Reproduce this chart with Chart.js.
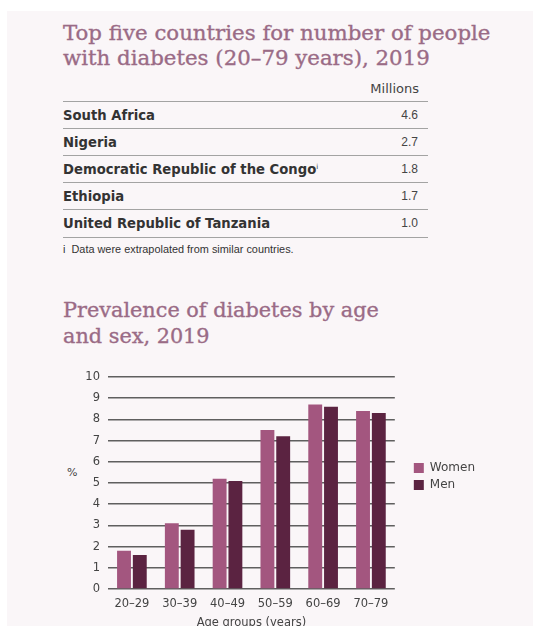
<!DOCTYPE html>
<html>
<head>
<meta charset="utf-8">
<script src="https://cdn.jsdelivr.net/npm/chart.js@4.4.0/dist/chart.umd.min.js"></script>
<style>
  html, body { margin: 0; padding: 0; width: 533px; height: 626px; overflow: hidden; background: #ffffff; }
  .panel { position: absolute; left: 7px; top: 11px; width: 526px; height: 615px; background: #faf6f8; }
  .title { position: absolute; left: 63px; margin: 0; font-family: 'DejaVu Serif', serif; font-size: 21.3px; font-weight: normal; color: #9a6b86; white-space: nowrap; -webkit-text-stroke: 0.35px #9a6b86; }
  #title1 { top: 20px; line-height: 25px; }
  #title2 { top: 297px; line-height: 26px; font-size: 20.8px; }
  .tbl { position: absolute; left: 63px; top: 79px; width: 365px; }
  .tbl .hd { height: 22px; text-align: right; padding-right: 9px; font-family: 'DejaVu Sans', sans-serif; font-size: 13px; color: #444; line-height: 20px; box-sizing: border-box; }
  .tbl .row { height: 27px; border-top: 1.5px solid #a3a3a3; box-sizing: border-box; display: flex; justify-content: space-between; align-items: center; }
  .tbl .row:last-child { height: 28.5px; border-bottom: 1.5px solid #a3a3a3; }
  .tbl .name { font-family: 'DejaVu Sans', sans-serif; font-weight: bold; font-size: 13.2px; color: #333; }
  .tbl .name sup { font-size: 7px; font-weight: normal; }
  .tbl .val { font-family: 'Liberation Sans Narrow', sans-serif; font-size: 12px; color: #444; padding-right: 10px; }
  .note { position: absolute; left: 63px; top: 243px; font-family: 'Liberation Sans Narrow', sans-serif; font-size: 10.9px; color: #333; white-space: nowrap; }
  .pct { position: absolute; left: 67px; top: 466px; font-family: 'DejaVu Sans', sans-serif; font-size: 11px; color: #444; }
  #prevChart { position: absolute; left: 50px; top: 360px; }
</style>
</head>
<body>
<div class="panel"></div>
<h2 class="title" id="title1">Top five countries for number of people<br>with diabetes (20–79 years), 2019</h2>
<div class="tbl" id="countryTable"></div>
<div class="note">i&nbsp; Data were extrapolated from similar countries.</div>
<h2 class="title" id="title2">Prevalence of diabetes by age<br>and sex, 2019</h2>
<div class="pct">%</div>
<canvas id="prevChart" width="483" height="270"></canvas>

<script>
// top five countries, adults with diabetes (millions)
const countries = ['South Africa', 'Nigeria', 'Democratic Republic of the Congo', 'Ethiopia', 'United Republic of Tanzania'];
const countryNotes = ['', '', 'i', '', ''];
const millions = [4.6, 2.7, 1.8, 1.7, 1.0];

// prevalence by age group and sex (%)
const ageGroups = ['20–29', '30–39', '40–49', '50–59', '60–69', '70–79'];
const women = [1.8, 3.1, 5.2, 7.5, 8.7, 8.4];
const men = [1.6, 2.8, 5.1, 7.2, 8.6, 8.3];
const yTicks = [0, 1, 2, 3, 4, 5, 6, 7, 8, 9, 10];

const tickFont = { family: 'DejaVu Sans', size: 11.5 };

function buildTable() {
  let html = '<div class="hd">Millions</div>';
  for (let i = 0; i < countries.length; i++) {
    const sup = countryNotes[i] ? `<sup>${countryNotes[i]}</sup>` : '';
    html += '<div class="row">';
    html += `<span class="name">${countries[i]}${sup}</span>`;
    html += `<span class="val">${millions[i].toFixed(1)}</span>`;
    html += '</div>';
  }
  document.getElementById('countryTable').innerHTML = html;
}

// push the legend a little away from the plot and up
const legendShift = {
  id: 'legendShift',
  afterLayout(chart) {
    const lg = chart.legend;
    lg.left += 14;
    lg.right += 14;
    lg.top -= 27;
    lg.bottom -= 27;
  }
};

function drawChart() {
  const ctx = document.getElementById('prevChart').getContext('2d');
  new Chart(ctx, {
    type: 'bar',
    data: {
      labels: ageGroups,
      datasets: [
        { label: 'Women', data: women, backgroundColor: '#a3567f' },
        { label: 'Men', data: men, backgroundColor: '#5b2341' }
      ]
    },
    options: {
      responsive: false,
      animation: false,
      layout: { padding: { top: 17, right: 62, bottom: 0, left: 0 } },
      datasets: { bar: { categoryPercentage: 0.66, barPercentage: 0.88 } },
      plugins: {
        legend: {
          position: 'right',
          align: 'center',
          labels: {
            boxWidth: 10,
            boxHeight: 10,
            padding: 5,
            color: '#444',
            font: { family: 'DejaVu Sans', size: 12 }
          }
        },
        tooltip: { enabled: false }
      },
      scales: {
        x: {
          grid: { display: false, drawTicks: false },
          border: { display: false },
          ticks: { color: '#444', font: tickFont, padding: 8 },
          title: {
            display: true,
            text: 'Age groups (years)',
            color: '#444',
            font: { family: 'DejaVu Sans', size: 11.5 },
            padding: 0
          },
          afterFit: s => { s.height = 41; }
        },
        y: {
          min: 0,
          max: 10,
          afterBuildTicks: s => { s.ticks = yTicks.map(v => ({ value: v })); },
          grid: { color: '#5f5f5f', lineWidth: 1.5, drawTicks: false },
          border: { display: false },
          ticks: { color: '#444', font: tickFont, padding: 8 },
          afterFit: s => { s.width = 58; }
        }
      }
    },
    plugins: [legendShift]
  });
}

buildTable();
drawChart();
</script>
</body>
</html>
